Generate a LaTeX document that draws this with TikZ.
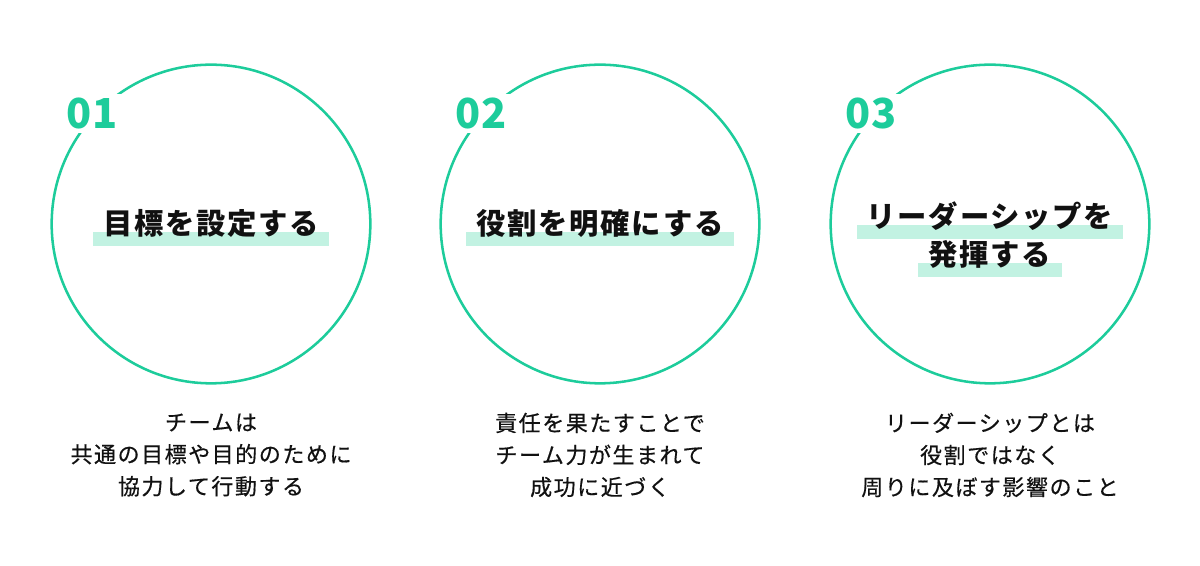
\documentclass[tikz,border=0pt]{standalone}
\usepackage{xcolor}
\usepackage{fontspec}
\usepackage{tikz}
\usetikzlibrary{calc,positioning,backgrounds}
\newfontfamily\jpnum{Noto Sans CJK JP}
\newfontfamily\jptitle[LetterSpace=6]{Noto Sans CJK JP}
\newfontfamily\jpdesc[LetterSpace=7,FakeBold=0.5]{Noto Sans CJK JP}
\definecolor{mint}{HTML}{1DCC9B}
\definecolor{marker}{HTML}{C2F2E2}
\definecolor{ink}{HTML}{111111}
\tikzset{
  Ring/.style={
    circle, draw=mint, line width=1.9pt,
    minimum size=239pt, inner sep=0pt
  },
  StepNum/.style={
    fill=white, text=mint, inner xsep=5pt, inner ysep=3pt,
    font=\jpnum\bfseries\fontsize{31}{31}\selectfont
  },
  Title/.style={
    anchor=base, inner sep=0pt, text=ink,
    font=\jptitle\bfseries\fontsize{22}{22}\selectfont
  },
  Desc/.style={
    align=center, inner sep=0pt, text=ink,
    font=\jpdesc\fontsize{16.5}{24}\selectfont
  }
}
\newcommand{\MarkBar}[1]{%
  % #1 = title node, bar sits under its lower half
  \fill[marker] ($(#1.base west)+(-10,-3)$) rectangle ($(#1.base east)+(10,11)$);
}

\begin{document}
\begin{tikzpicture}[x=0.75pt, y=-0.75pt]
  \useasboundingbox (0,0) rectangle (1200,566);

  % circles
  \node[Ring] (ring1) at (211,224) {};
  \node[Ring] (ring2) at (600,224) {};
  \node[Ring] (ring3) at (990,224) {};

  % numbers, cut into the rim
  \node[StepNum] (num1) at ([xshift=-4pt,yshift=-2pt]ring1.135) {01};
  \node[StepNum] (num2) at ([xshift=-4pt,yshift=-2pt]ring2.135) {02};
  \node[StepNum] (num3) at ([xshift=-4pt,yshift=-2pt]ring3.135) {03};

  % titles with marker bars
  \node[Title] (ttl1) at (211,235) {目標を設定する};
  \node[Title] (ttl2) at (600,235) {役割を明確にする};
  \node[Title] (ttl3a) at (990,228) {リーダーシップを};
  \node[Title] (ttl3b) at (990,266) {発揮する};
  \begin{scope}[on background layer]
    \MarkBar{ttl1}
    \MarkBar{ttl2}
    \MarkBar{ttl3a}
    \MarkBar{ttl3b}
  \end{scope}

  % descriptions
  \node[Desc] (desc1) at (211,455) {チームは\\共通の目標や目的のために\\協力して行動する};
  \node[Desc] (desc2) at (600,455) {責任を果たすことで\\チーム力が生まれて\\成功に近づく};
  \node[Desc] (desc3) at (990,455) {リーダーシップとは\\役割ではなく\\周りに及ぼす影響のこと};
\end{tikzpicture}
\end{document}
